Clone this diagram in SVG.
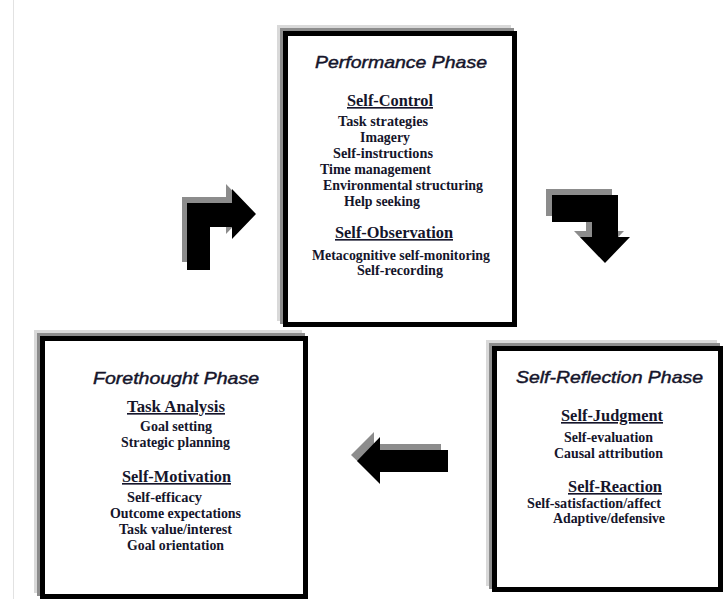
<svg xmlns="http://www.w3.org/2000/svg" width="724" height="599" viewBox="0 0 724 599">
  <style>
    .f-light { fill: none; stroke: #d9d9d9; stroke-width: 5; }
    .f-gray { fill: none; stroke: #8c8c8c; stroke-width: 5; }
    .f-black { fill: #ffffff; stroke: #000000; stroke-width: 5; }
    .title { font-family: "Liberation Sans", Arial, sans-serif; font-style: italic; font-size: 17px; fill: #15152b; stroke: #15152b; stroke-width: 0.45px; }
    .head { font-family: "Liberation Serif", "Times New Roman", serif; font-weight: bold; font-size: 16.3px; fill: #15152b; text-decoration: underline; }
    .item { font-family: "Liberation Serif", "Times New Roman", serif; font-weight: bold; font-size: 13.8px; fill: #15152b; }
    .arrow { fill: #000000; }
    .arrow-shadow { fill: #8c8c8c; }
  </style>

  <rect x="0" y="0" width="724" height="599" fill="#ffffff"/>
  <line x1="13.5" y1="0" x2="13.5" y2="599" stroke="#e2e2e2" stroke-width="1"/>

  <!-- Performance phase -->
  <g id="performance">
    <rect class="f-light" x="279.5" y="27.5" width="229" height="291"/>
    <rect class="f-gray" x="282.5" y="30.5" width="229" height="291"/>
    <rect class="f-black" x="285.5" y="33.5" width="229" height="291"/>
    <text class="title" x="315" y="68" textLength="172" lengthAdjust="spacingAndGlyphs">Performance Phase</text>
    <text class="head" x="347" y="106" textLength="86" lengthAdjust="spacingAndGlyphs">Self-Control</text>
    <text class="item" x="338" y="126" textLength="90" lengthAdjust="spacingAndGlyphs">Task strategies</text>
    <text class="item" x="360" y="142" textLength="50" lengthAdjust="spacingAndGlyphs">Imagery</text>
    <text class="item" x="333" y="158" textLength="100" lengthAdjust="spacingAndGlyphs">Self-instructions</text>
    <text class="item" x="320" y="174" textLength="111" lengthAdjust="spacingAndGlyphs">Time management</text>
    <text class="item" x="323" y="190" textLength="160" lengthAdjust="spacingAndGlyphs">Environmental structuring</text>
    <text class="item" x="344" y="206" textLength="76" lengthAdjust="spacingAndGlyphs">Help seeking</text>
    <text class="head" x="335" y="238" textLength="118" lengthAdjust="spacingAndGlyphs">Self-Observation</text>
    <text class="item" x="312" y="260" textLength="178" lengthAdjust="spacingAndGlyphs">Metacognitive self-monitoring</text>
    <text class="item" x="357" y="275" textLength="86" lengthAdjust="spacingAndGlyphs">Self-recording</text>
  </g>

  <!-- Forethought phase -->
  <g id="forethought">
    <rect class="f-light" x="36.5" y="332.5" width="263" height="258"/>
    <rect class="f-gray" x="39.5" y="335.5" width="263" height="258"/>
    <rect class="f-black" x="42.5" y="338.5" width="263" height="258"/>
    <text class="title" x="93" y="384" textLength="166" lengthAdjust="spacingAndGlyphs">Forethought Phase</text>
    <text class="head" x="127" y="412" textLength="98" lengthAdjust="spacingAndGlyphs">Task Analysis</text>
    <text class="item" x="140" y="431" textLength="72" lengthAdjust="spacingAndGlyphs">Goal setting</text>
    <text class="item" x="121" y="447" textLength="109" lengthAdjust="spacingAndGlyphs">Strategic planning</text>
    <text class="head" x="122" y="482" textLength="109" lengthAdjust="spacingAndGlyphs">Self-Motivation</text>
    <text class="item" x="127" y="502" textLength="75" lengthAdjust="spacingAndGlyphs">Self-efficacy</text>
    <text class="item" x="110" y="518" textLength="131" lengthAdjust="spacingAndGlyphs">Outcome expectations</text>
    <text class="item" x="119" y="534" textLength="113" lengthAdjust="spacingAndGlyphs">Task value/interest</text>
    <text class="item" x="127" y="550" textLength="97" lengthAdjust="spacingAndGlyphs">Goal orientation</text>
  </g>

  <!-- Self-reflection phase -->
  <g id="self-reflection">
    <rect class="f-light" x="488.5" y="342.5" width="226" height="241"/>
    <rect class="f-gray" x="491.5" y="345.5" width="226" height="241"/>
    <rect class="f-black" x="494.5" y="348.5" width="226" height="241"/>
    <text class="title" x="516" y="383" textLength="187" lengthAdjust="spacingAndGlyphs">Self-Reflection Phase</text>
    <text class="head" x="561" y="421" textLength="102" lengthAdjust="spacingAndGlyphs">Self-Judgment</text>
    <text class="item" x="564" y="442" textLength="89" lengthAdjust="spacingAndGlyphs">Self-evaluation</text>
    <text class="item" x="554" y="458" textLength="109" lengthAdjust="spacingAndGlyphs">Causal attribution</text>
    <text class="head" x="568" y="492" textLength="94" lengthAdjust="spacingAndGlyphs">Self-Reaction</text>
    <text class="item" x="527" y="508" textLength="134" lengthAdjust="spacingAndGlyphs">Self-satisfaction/affect</text>
    <text class="item" x="553" y="523" textLength="112" lengthAdjust="spacingAndGlyphs">Adaptive/defensive</text>
  </g>

  <!-- Cycle arrows with drop shadows -->
  <g id="connectors">
    <g id="arrow-forethought-to-performance">
      <polygon class="arrow-shadow" points="182,262 182,197 226,197 226,184 250,209 226,234 226,221 205,221 205,262"/>
      <polygon class="arrow" points="187,270 187,203 232,203 232,189 256,214 232,239 232,227 210,227 210,270"/>
    </g>
    <g id="arrow-performance-to-reflection">
      <polygon class="arrow-shadow" points="546,189 612,189 612,231 624,231 599,257 574,231 586,231 586,216 546,216"/>
      <polygon class="arrow" points="552,195 618,195 618,237 630,237 605,263 580,237 592,237 592,222 552,222"/>
    </g>
    <g id="arrow-reflection-to-forethought">
      <polygon class="arrow-shadow" points="441,444 374,444 374,432 351,455 374,477 374,466 441,466"/>
      <polygon class="arrow" points="448,450 380,450 380,437 357,461 380,484 380,472 448,472"/>
    </g>
  </g>
</svg>
